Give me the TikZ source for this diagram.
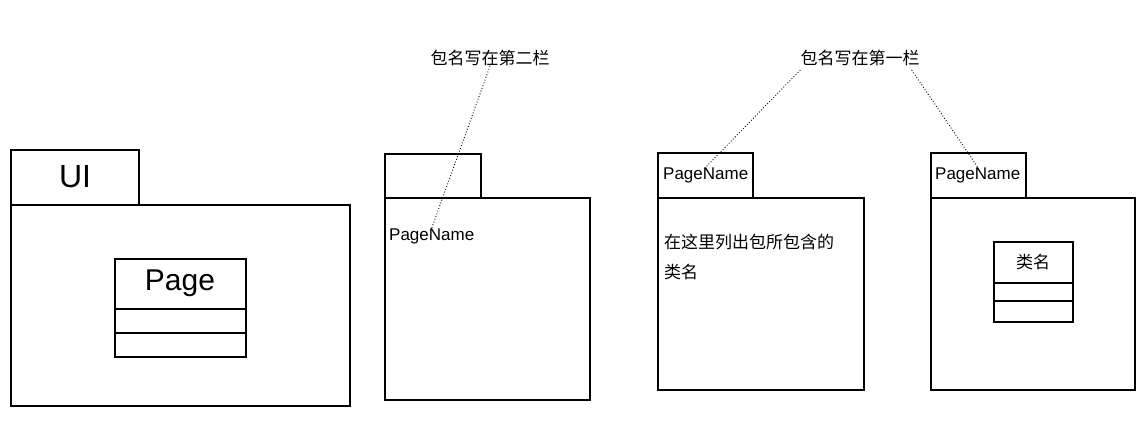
\documentclass[tikz,border=0pt]{standalone}
\usepackage{fontspec}
\setmainfont{Liberation Sans}
\newfontfamily\cjk{Noto Sans CJK SC}
\begin{document}
\begin{tikzpicture}[x=1pt,y=-1pt]
\tikzset{box/.style={draw, line width=1.3pt}, % package and class frames
  note/.style={font=\cjk\fontsize{17}{20}\selectfont, inner sep=0pt}, % note text
  txt/.style={font=\fontsize{17}{20}\selectfont, inner sep=0pt, anchor=west},
  link/.style={dotted, line width=0.9pt}}
\useasboundingbox (0,0) rectangle (1144,438);
% package UI
\draw[box] (11,150) rectangle (139,205);
\draw[box] (11,205) rectangle (350,406);
\node[font=\fontsize{32}{34}\selectfont] (ui) at (75,177) {UI};
\draw[box] (115,259) rectangle (246,357);
\draw[box] (115,309) -- (246,309);
\draw[box] (115,333) -- (246,333);
\node[font=\fontsize{30}{32}\selectfont] (page) at (180,283) {Page};
% package with name in second compartment
\draw[box] (385,154) rectangle (481,198);
\draw[box] (385,198) rectangle (590,400);
\node[txt] (name2) at (389,236) {PageName};
\node[note] (note2) at (490,58) {包名写在第二栏};
\draw[link] (note2.south) -- (name2.north);
% package with name in first compartment
\draw[box] (658,153) rectangle (753,198);
\draw[box] (658,198) rectangle (864,390);
\node[txt] (name3) at (663,175) {PageName};
\node[note, anchor=north west, align=left, font=\cjk\fontsize{17}{30}\selectfont] (list3) at (664,234) {在这里列出包所包含的\\类名};
\draw[box] (931,153) rectangle (1026,198);
\draw[box] (931,198) rectangle (1135,390);
\node[txt] (name4) at (935,175) {PageName};
\draw[box] (994,242) rectangle (1073,322);
\draw[box] (994,283) -- (1073,283);
\draw[box] (994,301) -- (1073,301);
\node[note] (cls4) at (1033,262) {类名};
\node[note] (note1) at (860,58) {包名写在第一栏};
\draw[link] (note1.south west) ++(0,4) coordinate (n1a) -- (name3.north);
\draw[link] (note1.south east) ++(-8,4) coordinate (n1b) -- (name4.north);
\end{tikzpicture}
\end{document}
